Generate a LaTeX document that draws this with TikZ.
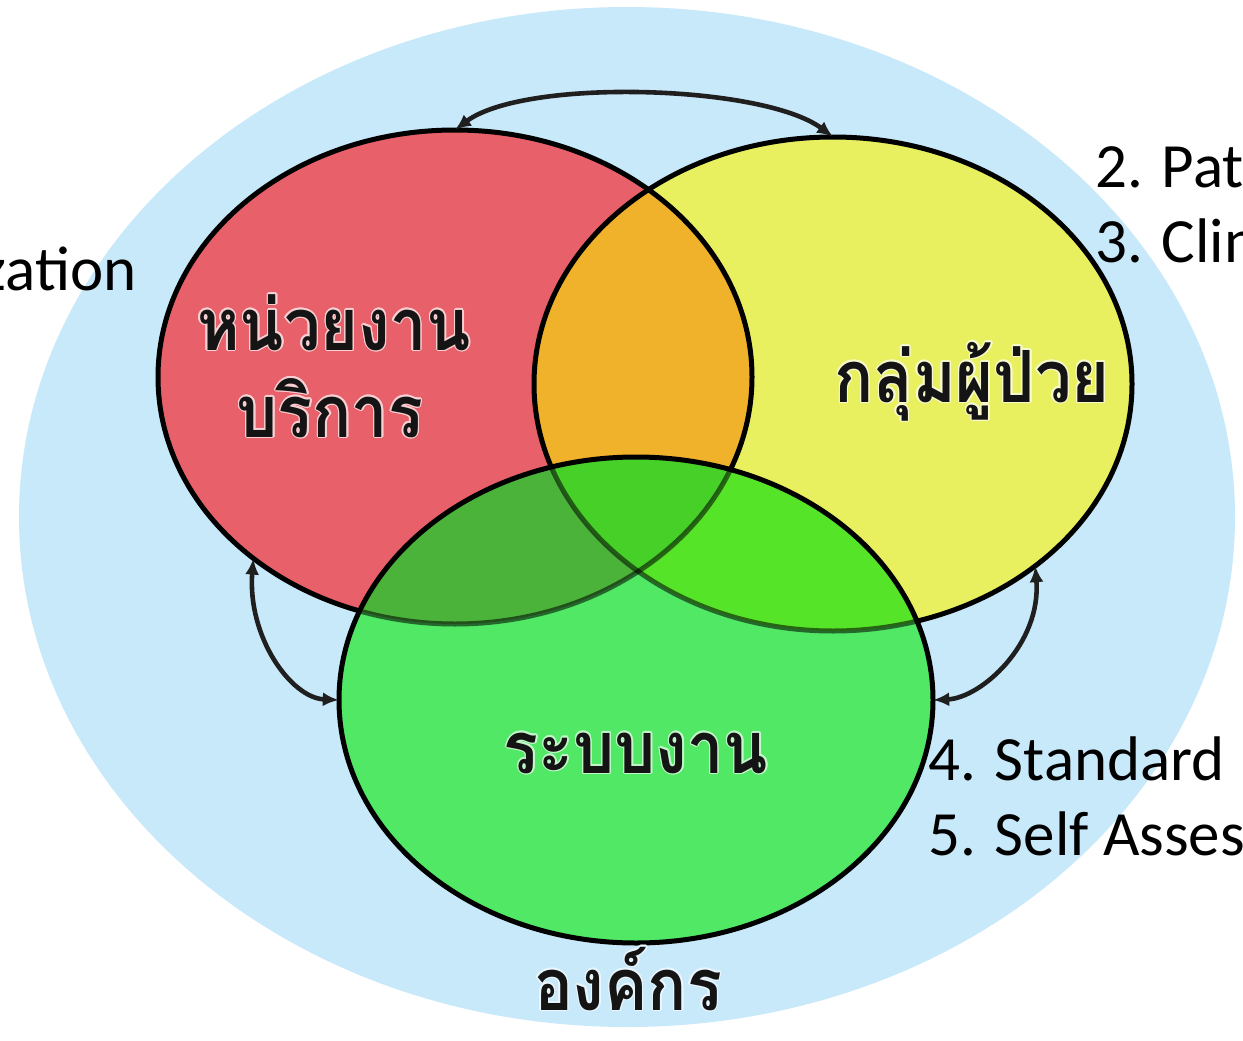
\documentclass[tikz,border=0pt]{standalone}
\usepackage{fontspec}
\setmainfont{Carlito}
\newfontfamily\thaifont[Script=Thai,FakeStretch=0.9]{Loma}
\usepackage[copies]{contour}
\contourlength{1.4pt}
\usetikzlibrary{shapes.geometric,arrows.meta}

% palette
\definecolor{orgblue}{HTML}{C8E9FA}
\definecolor{unitred}{HTML}{E8606A}
\definecolor{patyellow}{HTML}{E8F05F}
\definecolor{mixorange}{HTML}{F0B22A}
\definecolor{sysgreen}{HTML}{50E864}
\definecolor{mixdarkgreen}{HTML}{4BB23A}
\definecolor{mixlimegreen}{HTML}{55E428}
\definecolor{mixcore}{HTML}{46D028}
\definecolor{labelink}{HTML}{141414}

% the three sets
\def\unitpath{(455,377) ellipse [x radius=297, y radius=247]}
\def\patientpath{(833,384) ellipse [x radius=299, y radius=247]}
\def\systempath{(636,700) ellipse [x radius=297, y radius=243]}

\begin{document}
\begin{tikzpicture}[x=1pt,y=-1pt,
  setnode/.style={ellipse, inner sep=0pt, draw=none},
  rim/.style={draw=black, line width=5pt},
  link/.style={{Latex[length=16pt,width=14pt]}-{Latex[length=16pt,width=14pt]},
               line width=4.6pt, draw=black!88},
  thailabel/.style={font=\thaifont\bfseries\fontsize{72}{80}\selectfont,
                    text=labelink, inner sep=0pt, anchor=base},
  note/.style={font=\fontsize{63}{70}\selectfont, inner sep=0pt, text=black},
]
\useasboundingbox (0,0) rectangle (1243,1041);
\fill[white] (0,0) rectangle (1243,1041);

% organisation backdrop
\fill[orgblue] (627,517) ellipse [x radius=608, y radius=510];

% service units and patient groups
\fill[unitred] \unitpath;
\fill[patyellow] \patientpath;
\begin{scope}
  \clip \unitpath;
  \fill[mixorange] \patientpath;
\end{scope}
\draw[rim] \unitpath;
\draw[rim] \patientpath;

% work systems, with its overlaps
\fill[sysgreen] \systempath;
\begin{scope}
  \clip \systempath;
  \fill[mixdarkgreen] \unitpath;
  \fill[mixlimegreen] \patientpath;
  \clip \unitpath;
  \fill[mixcore] \patientpath;
\end{scope}
\begin{scope}
  \clip \systempath;
  \draw[rim, draw opacity=0.55] \unitpath;
  \draw[rim, draw opacity=0.55] \patientpath;
\end{scope}
\draw[rim] \systempath;

% anchor nodes for the three sets
\node[setnode, minimum width=594pt, minimum height=494pt] (unit) at (455,377) {};
\node[setnode, minimum width=598pt, minimum height=494pt] (patient) at (833,384) {};
\node[setnode, minimum width=594pt, minimum height=486pt] (system) at (636,700) {};

% two-way links between the sets
\draw[link] (unit.north) .. controls +(70,-52) and +(-70,-52) .. (patient.north);
\draw[link] (unit.222) .. controls +(-6,78) and +(-48,-2) .. (system.west);
\draw[link] (patient.318) .. controls +(6,78) and +(48,-2) .. (system.east);

% set labels, with a light glow round the letters
\node[thailabel] (unitA) at (334,350) {\contour{white!70!unitred}{หน่วยงาน}};
\node[thailabel] (unitB) at (330,437) {\contour{white!70!unitred}{บริการ}};
\node[thailabel] (patientlbl) at (972,402) {\contour{white!70!patyellow}{กลุ่มผู้ป่วย}};
\node[thailabel] (systemlbl) at (636,773) {\contour{white!65!sysgreen}{ระบบงาน}};
\node[thailabel] (orglbl) at (628,1010) {\contour{white!60!orgblue}{องค์กร}};

% list items around the diagram
\node[note, anchor=base east] (itemorg) at (137,290) {zation};
\node[note, anchor=base west] (item2) at (1095,187) {2. Pat};
\node[note, anchor=base west] (item3) at (1095,262) {3. Clin};
\node[note, anchor=base west] (item4) at (928,780) {4. Standard};
\node[note, anchor=base west] (item5) at (928,855) {5. Self Asses};
\end{tikzpicture}
\end{document}
